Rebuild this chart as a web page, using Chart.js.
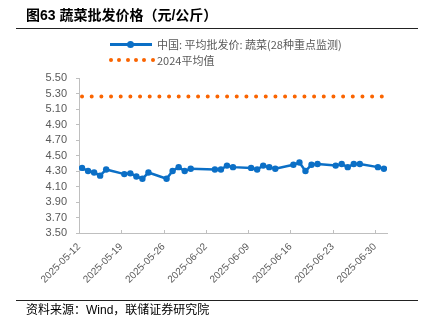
<!DOCTYPE html>
<html>
<head>
<meta charset="utf-8">
<script src="https://cdn.jsdelivr.net/npm/chart.js@4/dist/chart.umd.min.js"></script>
<style>
  html, body { margin: 0; padding: 0; background: #fff; }
  #wrap { position: relative; width: 424px; height: 332px; overflow: hidden; }
  #chart { position: absolute; left: 0; top: 0; }
  .title { position: absolute; left: 26px; top: 5px; font: bold 14px/20px "Liberation Sans", "Noto Sans CJK SC", sans-serif; color: #000; white-space: nowrap; }
  .rule { position: absolute; left: 16px; width: 402px; height: 1px; background: #222; }
  .lg-text { position: absolute; left: 157px; font: 11px/14px "Noto Sans CJK SC", sans-serif; color: #595959; white-space: nowrap; }
  .lg-line { position: absolute; left: 110px; width: 42px; height: 2.5px; background: #0b6fc6; }
  .lg-dot { position: absolute; width: 7px; height: 7px; border-radius: 50%; background: #0b6fc6; }
  .lg-odot { position: absolute; width: 4px; height: 4px; border-radius: 50%; background: #fa6400; }
  .source { position: absolute; left: 26px; top: 302px; font: 12px/16px "Liberation Sans", "Noto Sans CJK SC", sans-serif; color: #000; white-space: nowrap; }
</style>
</head>
<body>
<div id="wrap">
  <canvas id="chart" width="424" height="332"></canvas>
  <div class="title">图63 蔬菜批发价格（元/公斤）</div>
  <div class="rule" style="top:28px"></div>
  <div id="legend"></div>
  <div class="rule" style="top:300px"></div>
  <div class="source">资料来源：Wind，联储证券研究院</div>
</div>
<script>
// Daily wholesale price, average of 28 key monitored vegetables (yuan/kg)
const dates = [
  "2025-05-12","2025-05-13","2025-05-14","2025-05-15","2025-05-16",
  "2025-05-19","2025-05-20","2025-05-21","2025-05-22","2025-05-23",
  "2025-05-26","2025-05-27","2025-05-28","2025-05-29","2025-05-30",
  "2025-06-03","2025-06-04","2025-06-05","2025-06-06",
  "2025-06-09","2025-06-10","2025-06-11","2025-06-12","2025-06-13",
  "2025-06-16","2025-06-17","2025-06-18","2025-06-19","2025-06-20",
  "2025-06-23","2025-06-24","2025-06-25","2025-06-26","2025-06-27",
  "2025-06-30","2025-07-01"
];
const vegPrice = [
  4.34, 4.30, 4.28, 4.24, 4.32,
  4.26, 4.27, 4.23, 4.20, 4.28,
  4.20, 4.30, 4.35, 4.30, 4.33,
  4.32, 4.32, 4.37, 4.35,
  4.34, 4.32, 4.37, 4.35, 4.33,
  4.38, 4.41, 4.30, 4.38, 4.39,
  4.37, 4.39, 4.35, 4.39, 4.39,
  4.35, 4.33
];
const avg2024 = 5.26;

const seriesNames = ["中国: 平均批发价: 蔬菜(28种重点监测)", "2024平均值"];
const tickDates = ["2025-05-12","2025-05-19","2025-05-26","2025-06-02",
                   "2025-06-09","2025-06-16","2025-06-23","2025-06-30"];
const axisStart = "2025-05-12";
const axisEnd = "2025-07-02";
const yTicks = { min: 3.5, max: 5.5, step: 0.2 };

const DAY = 86400000;
const t0 = Date.parse(axisStart + "T00:00:00Z");
const dayOf = d => (Date.parse(d + "T00:00:00Z") - t0) / DAY;

// each daily value sits in the middle of its day slot
const vegPoints = dates.map((d, i) => ({ x: dayOf(d) + 0.5, y: vegPrice[i] }));
const avgPoints = dates.map(d => ({ x: dayOf(d) + 0.5, y: avg2024 }));

const BLUE = "#0b6fc6", ORANGE = "#fa6400", AXIS = "#bfbfbf", LABEL = "#595959";

// legend
const lg = document.getElementById("legend");
lg.innerHTML =
  '<div class="lg-line" style="top:43px"></div>' +
  '<div class="lg-dot" style="left:127px;top:40.7px"></div>' +
  '<div class="lg-text" style="top:37px">' + seriesNames[0] + '</div>' +
  [0,1,2,3,4,5].map(k => '<div class="lg-odot" style="left:' + (109 + k * 8.3) + 'px;top:58px"></div>').join("") +
  '<div class="lg-text" style="top:53px">' + seriesNames[1] + '</div>';

// short inward tick marks on the date axis
const innerTicks = {
  id: "innerTicks",
  afterDraw(chart) {
    const xs = chart.scales.x, ctx = chart.ctx;
    ctx.save();
    ctx.strokeStyle = AXIS;
    ctx.lineWidth = 1;
    xs.ticks.forEach(t => {
      const px = Math.round(xs.getPixelForValue(t.value)) + 0.5;
      ctx.beginPath();
      ctx.moveTo(px, xs.top);
      ctx.lineTo(px, xs.top - 3);
      ctx.stroke();
    });
    ctx.restore();
  }
};

new Chart(document.getElementById("chart"), {
  type: "line",
  data: {
    datasets: [
      {
        label: seriesNames[0],
        data: vegPoints,
        borderColor: BLUE,
        backgroundColor: BLUE,
        borderWidth: 2.5,
        pointRadius: 3.2,
        pointBorderWidth: 0,
        pointBackgroundColor: BLUE,
        tension: 0,
        order: 1
      },
      {
        label: seriesNames[1],
        data: avgPoints,
        borderColor: ORANGE,
        borderWidth: 4,
        borderDash: [0.01, 9.66],
        borderCapStyle: "round",
        pointRadius: 0,
        tension: 0,
        order: 2
      }
    ]
  },
  options: {
    responsive: false,
    animation: false,
    devicePixelRatio: 1,
    layout: { padding: { top: 78, right: 37, left: 0, bottom: 0 } },
    plugins: { legend: { display: false }, tooltip: { enabled: false } },
    scales: {
      x: {
        type: "linear",
        min: dayOf(axisStart),
        max: dayOf(axisEnd),
        afterFit: s => { s.height = 99; },
        // weekly ticks on Mondays
        afterBuildTicks: s => {
          s.ticks = tickDates.map(d => ({ value: dayOf(d) }));
        },
        border: { color: AXIS, width: 1 },
        grid: { drawOnChartArea: false, drawTicks: false },
        ticks: {
          autoSkip: false,
          minRotation: 45,
          maxRotation: 45,
          padding: 8,
          color: LABEL,
          font: { family: "Liberation Sans", size: 10 },
          callback: (v, i) => tickDates[i]
        }
      },
      y: {
        min: yTicks.min,
        max: yTicks.max,
        afterFit: s => { s.width = 79; },
        border: { color: AXIS, width: 1 },
        grid: { drawOnChartArea: false, drawTicks: true, tickLength: 3, color: AXIS },
        ticks: {
          stepSize: yTicks.step,
          autoSkip: false,
          padding: 9,
          color: LABEL,
          font: { family: "Liberation Sans", size: 11 },
          callback: v => Number(v).toFixed(2)
        }
      }
    }
  },
  plugins: [innerTicks]
});
</script>
</body>
</html>
